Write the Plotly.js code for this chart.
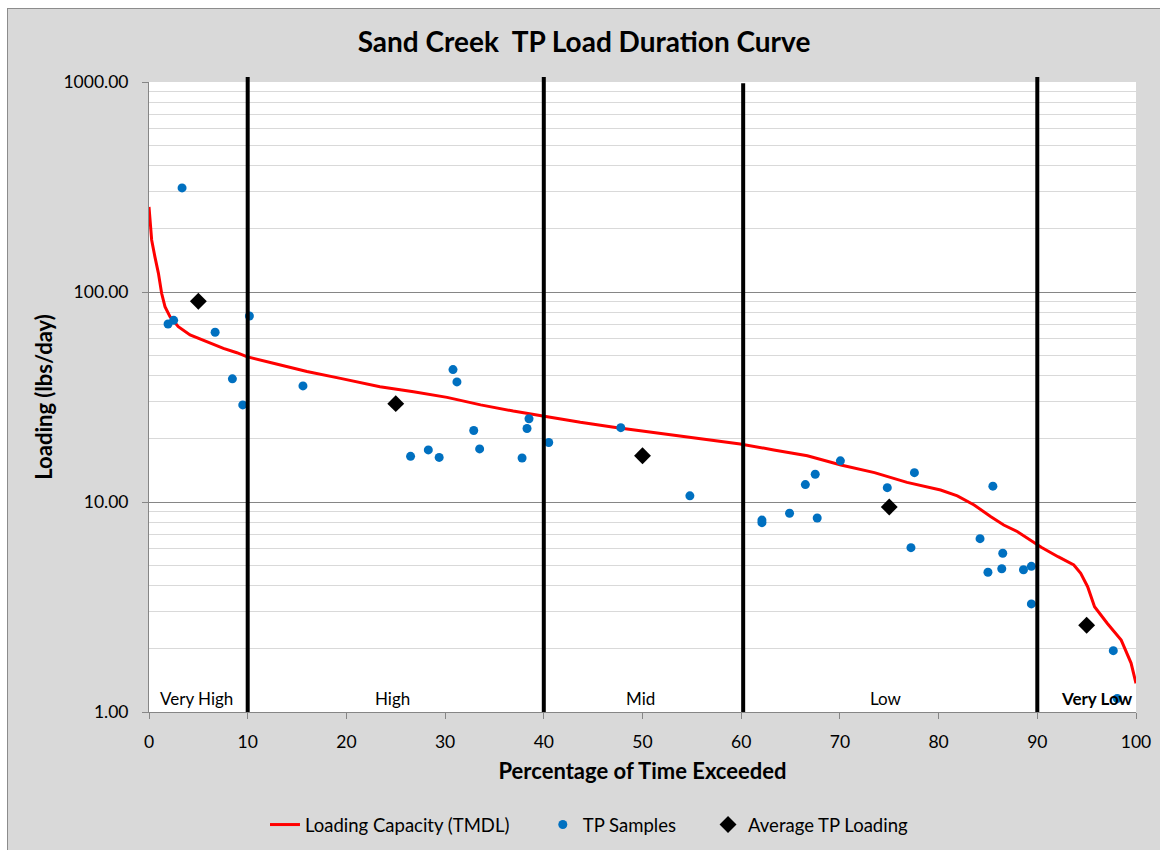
<!DOCTYPE html>
<html>
<head>
<meta charset="utf-8">
<script src="https://cdn.plot.ly/plotly-3.0.1.min.js"></script>
<style>
  html, body { margin: 0; padding: 0; background: #ffffff; }
  #chart { position: absolute; left: 7px; top: 8px; width: 1153px; height: 842px;
           box-sizing: border-box; border-left: 1px solid #8c8c8c; border-top: 1px solid #8c8c8c;
           background: #d9d9d9; }
</style>
</head>
<body>
<div id="chart"></div>
<script>
// Loading capacity (TMDL) curve
const curveX = [0, 0.27, 0.6, 0.95, 1.28, 1.62, 2.13, 2.97, 4.16, 5.85, 7.54, 8.9, 9.9, 12.6, 16.0, 19.4,
  23.4, 26.8, 30.2, 33.6, 36.9, 39.9, 43.7, 47.1, 50.5, 53.9, 59.9, 63.3, 66.7, 70.1, 73.5, 76.8,
  80.2, 81.9, 83.6, 85.3, 86.6, 88.0, 89.35, 90.4, 92.1, 93.7, 94.4, 95.1, 95.8, 97.1, 98.5, 99.5, 100];
const curveY = [254, 177, 147, 123, 98.6, 85.1, 76.3, 68.4, 62.4, 58.0, 53.9, 51.4, 49.2, 45.8, 41.8, 38.8,
  35.4, 33.5, 31.5, 29.0, 27.1, 25.7, 23.95, 22.7, 21.6, 20.5, 18.9, 17.7, 16.6, 15.0, 13.8, 12.4,
  11.4, 10.7, 9.68, 8.51, 7.77, 7.22, 6.59, 6.09, 5.49, 5.01, 4.58, 3.95, 3.17, 2.64, 2.20, 1.71, 1.37];

// TP samples
const sampleX = [3.35, 1.93, 2.5, 6.7, 8.45, 9.5, 10.17, 15.6, 26.5, 28.3, 29.4, 30.8, 31.2, 32.9, 33.5,
  37.8, 38.3, 38.5, 40.5, 47.8, 54.8, 62.1, 62.1, 64.9, 66.5, 67.5, 67.7, 70.05, 74.8, 77.2, 77.55,
  84.2, 85.0, 85.5, 86.4, 86.5, 88.6, 89.4, 89.4, 97.7, 98.1];
const sampleY = [313, 70.4, 73.3, 64.3, 38.6, 29.0, 76.9, 35.7, 16.5, 17.7, 16.3, 42.7, 37.3, 21.9, 17.9,
  16.2, 22.4, 24.9, 19.2, 22.6, 10.7, 8.2, 7.97, 8.84, 12.1, 13.55, 8.39, 15.7, 11.7, 6.06, 13.8,
  6.69, 4.63, 11.9, 4.81, 5.70, 4.76, 4.94, 3.27, 1.96, 1.16];

// Average TP loading per flow regime
const avgX = [5, 25, 50, 75, 95];
const avgY = [90.3, 29.4, 16.6, 9.47, 2.59];

// Flow regime boundaries and labels
const boundaryX = [10, 40, 60.2, 90];
const regionLabels = ["Very High", "High", "Mid", "Low", "<b>Very Low</b>"];
const regionLabelX = [4.8, 24.7, 49.8, 74.7, 96.0];

const FONT = "Lato, 'Open Sans', sans-serif";

const traces = [
  { x: curveX, y: curveY, type: 'scatter', mode: 'lines', name: 'Loading Capacity (TMDL)',
    line: { color: '#ff0000', width: 3 }, legend: 'legend' },
  { x: sampleX, y: sampleY, type: 'scatter', mode: 'markers', name: 'TP Samples',
    marker: { color: '#0070c0', size: 9, symbol: 'circle' }, legend: 'legend2' },
  { x: avgX, y: avgY, type: 'scatter', mode: 'markers', name: 'Average TP Loading',
    marker: { color: '#000000', size: 13, symbol: 'diamond' }, legend: 'legend3' }
];

const shapes = boundaryX.map((bx, i) => ({
  type: 'line', xref: 'x', yref: 'paper', x0: bx, x1: bx, y0: 0, y1: i === 2 ? 0.998 : 1.008,
  line: { color: '#000000', width: 4 }
}));

const annotations = regionLabels.map((t, i) => ({
  text: t, x: regionLabelX[i], xref: 'x', y: 0.021, yref: 'paper', yanchor: 'middle',
  showarrow: false, font: { family: FONT, size: 17, color: '#000000' }
}));

const legendBase = { orientation: 'h', xanchor: 'left', y: -0.1794, yanchor: 'middle',
  bgcolor: 'rgba(0,0,0,0)', font: { family: FONT, size: 18.5, color: '#000000' } };

const layout = {
  width: 1152, height: 841, autosize: false,
  paper_bgcolor: '#d9d9d9', plot_bgcolor: '#ffffff',
  margin: { l: 141, r: 24, t: 73, b: 138, autoexpand: false },
  font: { family: FONT, color: '#000000' },
  title: { text: '<b>Sand Creek\u00a0 TP Load Duration Curve</b>', xref: 'container', x: 0.5,
           yref: 'container', y: 0.961, yanchor: 'middle', font: { family: FONT, size: 28, color: '#000000' } },
  xaxis: {
    range: [0, 100], dtick: 10, tick0: 0, showgrid: false, zeroline: false,
    showline: true, linecolor: '#868686', linewidth: 1,
    ticks: 'outside', ticklen: 6, tickcolor: '#868686', ticklabelstandoff: 8,
    tickfont: { family: FONT, size: 17.5 },
    title: { text: '<b>Percentage of Time Exceeded</b>', font: { family: FONT, size: 22 }, standoff: 12 }
  },
  yaxis: {
    type: 'log', range: [0, 3], dtick: 1, tickformat: '.2f',
    showgrid: true, gridcolor: '#868686', gridwidth: 1, zeroline: false,
    showline: true, linecolor: '#868686', linewidth: 1,
    ticks: 'outside', ticklen: 6, tickcolor: '#868686', ticklabelstandoff: 10,
    tickfont: { family: FONT, size: 17.5 },
    minor: { dtick: 'D1', showgrid: true, gridcolor: '#d9d9d9', gridwidth: 1, ticks: '' },
    title: { text: '<b>Loading (lbs/day)</b>', font: { family: FONT, size: 22 }, standoff: 4 }
  },
  showlegend: true,
  legend: Object.assign({}, legendBase, { x: 0.1175 }),
  legend2: Object.assign({}, legendBase, { x: 0.399 }),
  legend3: Object.assign({}, legendBase, { x: 0.5664 }),
  shapes: shapes,
  annotations: annotations
};

Plotly.newPlot('chart', traces, layout, { displayModeBar: false, staticPlot: true });
</script>
</body>
</html>
